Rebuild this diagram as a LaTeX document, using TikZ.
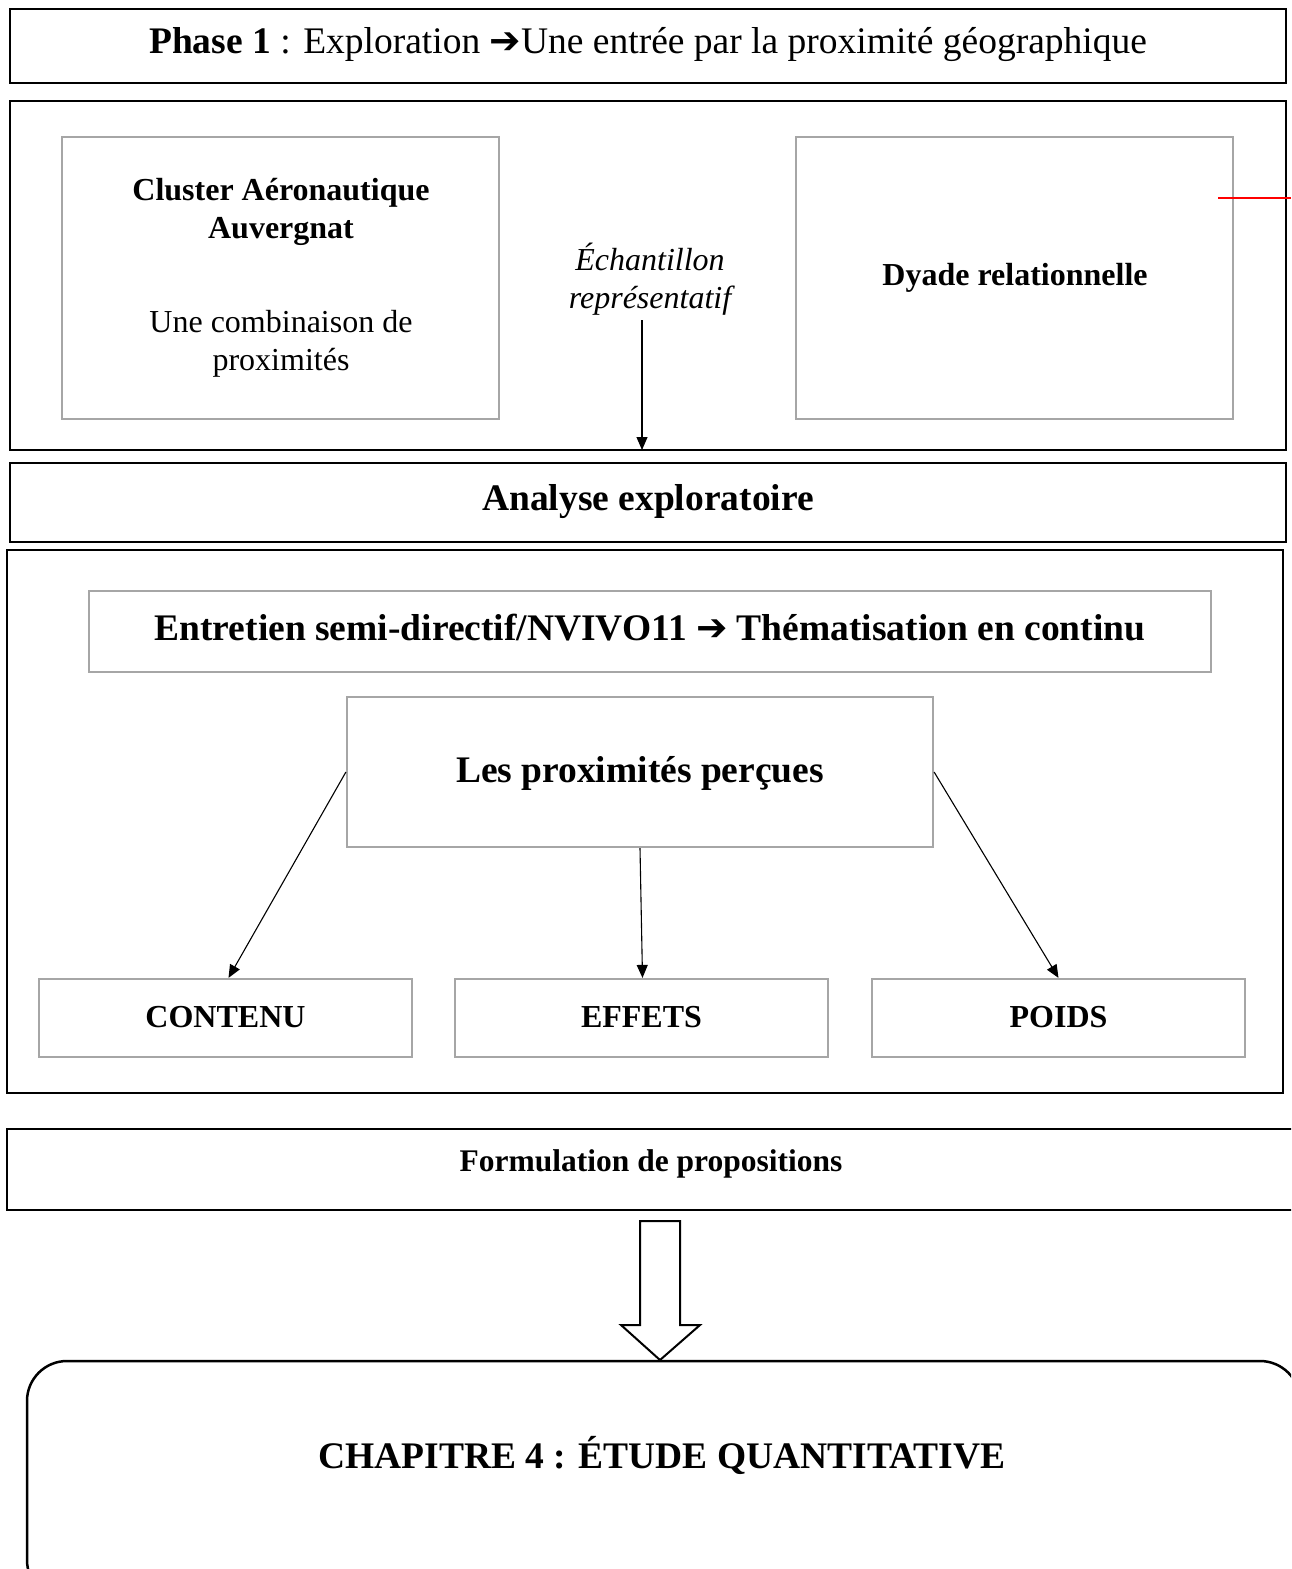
\documentclass[tikz,border=0pt]{standalone}
\usepackage{fontspec}
\setmainfont{Liberation Serif}
\newfontfamily\symfont{DejaVu Sans}
\usetikzlibrary{arrows.meta}
\newcommand{\myarr}{{\symfont\char"2794}}
\begin{document}
\begin{tikzpicture}[x=1pt,y=-1pt,
  blackbox/.style={draw=black,line width=2.5pt},
  graybox/.style={draw=black!35,line width=2.2pt},
  conn/.style={draw=black,line width=1.1pt,-{Triangle[length=13pt,width=11pt]}},
  txt/.style={align=center,inner sep=0pt,font=\fontsize{32}{38}\selectfont},
  big/.style={align=center,inner sep=0pt,font=\fontsize{37.5}{44}\selectfont}
]
\useasboundingbox (0,0) rectangle (1291,1569);
\clip (0,0) rectangle (1291,1569);
% Phase 1
\node[blackbox,minimum width=1276pt,minimum height=74pt,inner sep=0pt] (p1) at (648,46) {};
\node[big] (p1t) at (648,45) {\textbf{Phase 1} : Exploration \myarr Une entrée par la proximité géographique};
% Box 2
\node[blackbox,minimum width=1276pt,minimum height=349pt,inner sep=0pt] (b2) at (648,275.5) {};
\node[graybox,minimum width=437pt,minimum height=282pt,inner sep=0pt] (cl) at (280.5,278) {};
\node[txt] (clt) at (281,212) {\textbf{Cluster Aéronautique}\\\textbf{Auvergnat}};
\node[txt] (clc) at (281,344) {Une combinaison de\\proximités};
\node[graybox,minimum width=437pt,minimum height=282pt,inner sep=0pt] (dy) at (1014.5,278) {};
\node[txt] (dyt) at (1015,278) {\textbf{Dyade relationnelle}};
\node[txt] (ech) at (650,279) {\itshape Échantillon\\\itshape représentatif};
\coordinate (ea) at (642,320);
\coordinate (eb) at (642,450);
\draw[conn] (ea) -- (eb);
\coordinate (r1) at (1218,198);
\coordinate (r2) at (1291,198);
\draw[red,line width=1.3pt] (r1) -- (r2);
% Analyse exploratoire
\node[blackbox,minimum width=1276pt,minimum height=79pt,inner sep=0pt] (ae) at (648,502.5) {};
\node[big] (aet) at (648,502) {\textbf{Analyse exploratoire}};
% Box 4
\node[blackbox,minimum width=1276pt,minimum height=543pt,inner sep=0pt] (b4) at (645,821.5) {};
\node[graybox,minimum width=1122pt,minimum height=81pt,inner sep=0pt] (en) at (650,631.5) {};
\node[big] (ent) at (650,628) {\textbf{Entretien semi-directif/NVIVO11 \myarr\ Thématisation en continu}};
\node[graybox,minimum width=586pt,minimum height=150pt,inner sep=0pt] (lp) at (640,772) {};
\node[big] (lpt) at (640,773) {\textbf{Les proximités perçues}};
\node[graybox,minimum width=373pt,minimum height=78pt,inner sep=0pt] (co) at (225.5,1018) {};
\node[txt] (cot) at (225.5,1017) {\textbf{CONTENU}};
\node[graybox,minimum width=373pt,minimum height=78pt,inner sep=0pt] (ef) at (641.5,1018) {};
\node[txt] (eft) at (641.5,1017) {\textbf{EFFETS}};
\node[graybox,minimum width=373pt,minimum height=78pt,inner sep=0pt] (po) at (1058.5,1018) {};
\node[txt] (pot) at (1058.5,1017) {\textbf{POIDS}};
\draw[conn] (lp.west) -- ([xshift=3pt]co.north);
\draw[conn] (lp.south) -- ([xshift=1pt]ef.north);
\draw[conn] (lp.east) -- (po.north);
% Formulation
\node[blackbox,minimum width=1300pt,minimum height=81pt,inner sep=0pt] (fo) at (657,1169.5) {};
\node[txt,font=\fontsize{31.5}{36}\selectfont] (fot) at (651,1164) {\textbf{Formulation de propositions}};
% hollow arrow
\draw[line width=2pt,line join=miter] (640,1221) -- (680,1221) -- (680,1325) -- (700,1325) -- (660,1360) -- (621,1325) -- (640,1325) -- cycle;
% Chapitre 4
\draw[line width=2.5pt,rounded corners=40pt] (27,1361) rectangle (1300,1600);
\node[big] (ch) at (662,1455) {\textbf{CHAPITRE 4 : ÉTUDE QUANTITATIVE}};
\end{tikzpicture}
\end{document}
